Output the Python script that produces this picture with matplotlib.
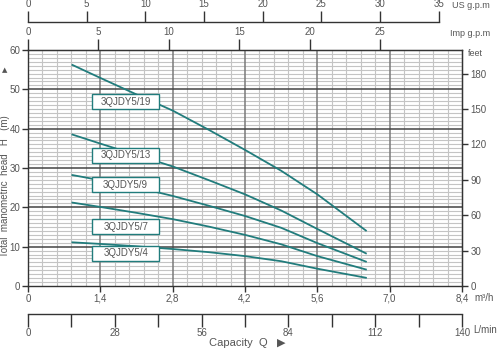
import matplotlib
matplotlib.use("Agg")
import matplotlib.pyplot as plt
from matplotlib.patches import Rectangle
import numpy as np

# débit (m3/h) et hauteur (m)
debit = [0.86, 1.4, 2.1, 2.8, 3.5, 4.2, 4.9, 5.6, 6.54]
h_5_19 = [56.2, 52.9, 48.7, 44.6, 39.7, 34.6, 29.3, 23.3, 14.1]
h_5_13 = [38.5, 36.2, 33.3, 30.4, 26.9, 23.3, 19.2, 14.5, 8.3]
h_5_9 = [28.2, 26.9, 25.1, 22.9, 20.4, 17.8, 14.8, 10.9, 6.2]
h_5_7 = [21.2, 20.1, 18.6, 17.0, 15.1, 13.0, 10.6, 7.6, 4.2]
h_5_4 = [11.1, 10.7, 10.1, 9.4, 8.6, 7.6, 6.3, 4.4, 2.1]

modeles = ["3QJDY5/19", "3QJDY5/13", "3QJDY5/9", "3QJDY5/7", "3QJDY5/4"]
label_q = 1.89
label_h = [46.9, 33.2, 25.8, 15.1, 8.3]

m3h_ticks = [0, 1.4, 2.8, 4.2, 5.6, 7.0, 8.4]
m3h_labels = ["0", "1,4", "2,8", "4,2", "5,6", "7,0", "8,4"]
lmin_ticks = [0, 28, 56, 84, 112, 140]
us_ticks = [0, 5, 10, 15, 20, 25, 30, 35]
imp_ticks = [0, 5, 10, 15, 20, 25]
feet_ticks = [0, 30, 60, 90, 120, 150, 180]

TEAL = "#217c7c"
GRIS = "#555555"
plt.rcParams['font.family'] = ['Liberation Sans', 'DejaVu Sans']
plt.rcParams['font.size'] = 7

fig = plt.figure(figsize=(4.97, 3.54), dpi=100)
ax = fig.add_axes([28 / 497, 68 / 354, 434 / 497, 236 / 354])
ax.set_xlim(0, 8.4)
ax.set_ylim(0, 60)

# grille
ax.set_xticks(np.arange(0, 8.41, 0.28), minor=True)
ax.set_yticks(np.arange(0, 61, 1), minor=True)
ax.grid(which='minor', color='#c4c4c4', lw=0.8)
for x in m3h_ticks[1:-1]:
    ax.axvline(x, color='#7a7a7a', lw=1.1, zorder=2)
for y in range(10, 60, 10):
    ax.axhline(y, color='#444444', lw=1.1, zorder=2)
ax.tick_params(which='minor', length=0)

for s in ax.spines.values():
    s.set_color('#333333')
    s.set_linewidth(1.0)

ax.set_xticks(m3h_ticks)
ax.set_xticklabels(m3h_labels)
ax.set_yticks(range(0, 61, 10))
ax.tick_params(which='major', colors='#333333', labelcolor=GRIS, length=4, width=1,
               labelsize=7, pad=1.5)

series = [h_5_19, h_5_13, h_5_9, h_5_7, h_5_4]
for h in series:
    ax.plot(debit, h, color=TEAL, lw=1.3, zorder=3)

w, hh = 1.30, 3.8
for nom, y in zip(modeles, label_h):
    ax.add_patch(Rectangle((label_q - w / 2, y - hh / 2), w, hh, facecolor='white',
                           edgecolor=TEAL, lw=1.0, zorder=4))
    ax.text(label_q, y, nom, ha='center', va='center', fontsize=7, color=GRIS, zorder=5)

# axe Imp g.p.m (haut)
imp = ax.secondary_xaxis('top', functions=(lambda q: q * 3.6662, lambda g: g / 3.6662))
imp.set_xticks(imp_ticks)
imp.tick_params(length=8, width=1, colors='#333333', labelcolor=GRIS, labelsize=7, pad=1)
imp.spines['top'].set_color('#333333')

# axe US g.p.m
us = ax.secondary_xaxis(1.119, functions=(lambda q: q * 4.4029, lambda g: g / 4.4029))
us.set_xticks(us_ticks)
us.tick_params(length=8, width=1, colors='#333333', labelcolor=GRIS, labelsize=7, pad=1)
us.spines['top'].set_color('#333333')
us.spines['top'].set_linewidth(1.0)
us.spines['top'].set_bounds(0, 35)

# axe L/min (bas)
lm = ax.secondary_xaxis(-0.119, functions=(lambda q: q * 100 / 6, lambda l: l * 6 / 100))
lm.set_xticks(lmin_ticks)
lm.set_xticks(np.arange(14, 140, 28), minor=True)
lm.tick_params(which='both', length=9, width=1, colors='#333333', labelcolor=GRIS,
               labelsize=7, pad=1)
lm.spines['bottom'].set_color('#333333')
lm.spines['bottom'].set_linewidth(1.0)

# axe feet (droite)
ft = ax.secondary_yaxis('right', functions=(lambda m: m * 10 / 3, lambda f: f * 0.3))
ft.set_yticks(feet_ticks)
ft.tick_params(length=4, width=1, colors='#333333', labelcolor=GRIS, labelsize=7, pad=2)

def ftxt(x, y, s, **kw):
    kw.setdefault('color', GRIS)
    kw.setdefault('fontsize', 7)
    fig.text(x / 497, 1 - y / 354, s, **kw)

ftxt(452, 5, "US g.p.m", va='center', fontsize=6.5)
ftxt(450, 33, "Imp g.p.m", va='center', fontsize=6.5)
ftxt(468, 53, "feet", va='center', fontsize=6.5)
ftxt(474, 298, "m³/h", va='center')
ftxt(473, 330, "L/min", va='center')
ftxt(209, 343, "Capacity  Q   ▶", va='center', fontsize=8)
ftxt(5.5, 186, "Total  manometric  head   H   (m)", va='center', ha='center',
     rotation=90, fontsize=7)
ftxt(4.5, 70, "▲", va='center', ha='center', fontsize=5, family='DejaVu Sans')

fig.savefig("out.png", dpi=100)
